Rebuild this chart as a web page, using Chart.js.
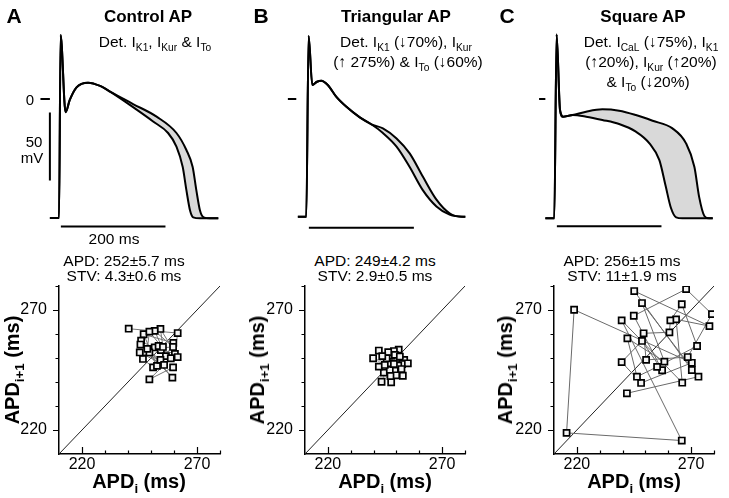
<!DOCTYPE html>
<html>
<head>
<meta charset="utf-8">
<script src="https://cdn.jsdelivr.net/npm/chart.js@4.4.1/dist/chart.umd.min.js"></script>
<style>
body{margin:0;background:#fff;font-family:Arial,"Liberation Sans",sans-serif;}
#fig{position:relative;width:729px;height:498px;overflow:hidden;}
canvas{position:absolute;}
.t{position:absolute;white-space:nowrap;color:#000;line-height:1;transform:translate(-50%,-50%);}
.b{font-weight:bold;}
.r{transform:translate(-50%,-50%) rotate(-90deg);}
sub{font-size:66%;vertical-align:-0.35em;line-height:0;}
</style>
</head>
<body>
<div id="fig">
  <canvas id="apA"></canvas><canvas id="apB"></canvas><canvas id="apC"></canvas>
  <canvas id="pcA"></canvas><canvas id="pcB"></canvas><canvas id="pcC"></canvas>

  <div class="t b" style="left:14px;top:15px;font-size:21px">A</div>
  <div class="t b" style="left:261px;top:15px;font-size:21px">B</div>
  <div class="t b" style="left:507px;top:15px;font-size:21px">C</div>

  <div class="t b" style="left:148px;top:16px;font-size:17px">Control AP</div>
  <div class="t b" style="left:396px;top:16px;font-size:17px">Triangular AP</div>
  <div class="t b" style="left:643px;top:16px;font-size:17px">Square AP</div>

  <div class="t" style="left:155px;top:42px;font-size:15.5px">Det. I<sub>K1</sub>, I<sub>Kur</sub> &amp; I<sub>To</sub></div>
  <div class="t" style="left:406px;top:42px;font-size:15.5px">Det. I<sub>K1</sub> (↓70%), I<sub>Kur</sub></div>
  <div class="t" style="left:408px;top:62px;font-size:15.5px">(↑ 275%) &amp; I<sub>To</sub> (↓60%)</div>
  <div class="t" style="left:651px;top:42px;font-size:15.5px">Det. I<sub>CaL</sub> (↓75%), I<sub>K1</sub></div>
  <div class="t" style="left:651px;top:62px;font-size:15.5px">(↑20%), I<sub>Kur</sub> (↑20%)</div>
  <div class="t" style="left:648px;top:82px;font-size:15.5px">&amp; I<sub>To</sub> (↓20%)</div>

  <div class="t" style="left:30px;top:99px;font-size:15px">0</div>
  <div class="t" style="left:34px;top:141px;font-size:15px">50</div>
  <div class="t" style="left:32px;top:157px;font-size:15px">mV</div>
  <div class="t" style="left:114px;top:239px;font-size:15.5px">200 ms</div>

  <div class="t" style="left:124px;top:261px;font-size:15.5px">APD: 252±5.7 ms</div>
  <div class="t" style="left:124px;top:276px;font-size:15.5px">STV: 4.3±0.6 ms</div>
  <div class="t" style="left:375px;top:261px;font-size:15.5px">APD: 249±4.2 ms</div>
  <div class="t" style="left:375px;top:276px;font-size:15.5px">STV: 2.9±0.5 ms</div>
  <div class="t" style="left:622px;top:261px;font-size:15.5px">APD: 256±15 ms</div>
  <div class="t" style="left:622px;top:276px;font-size:15.5px">STV: 11±1.9 ms</div>

  <div class="t b r" style="left:12px;top:370px;font-size:20px">APD<sub>i+1</sub> (ms)</div>
  <div class="t b r" style="left:257px;top:370px;font-size:20px">APD<sub>i+1</sub> (ms)</div>
  <div class="t b r" style="left:505px;top:370px;font-size:20px">APD<sub>i+1</sub> (ms)</div>
  <div class="t b" style="left:139px;top:481px;font-size:20px">APD<sub>i</sub> (ms)</div>
  <div class="t b" style="left:385px;top:481px;font-size:20px">APD<sub>i</sub> (ms)</div>
  <div class="t b" style="left:634px;top:481px;font-size:20px">APD<sub>i</sub> (ms)</div>
</div>
<script>
// action potential traces: time (ms from upstroke) and voltage (mV)
// shared start (upstroke, notch, early plateau)
const tA0 = [-18, -0.5, 2.5, 12, 20, 33, 55, 78, 97];
const vA0 = [-87.5, -87.5, 47, -9.8, -0.7, 8.6, 12, 9.6, 5.4];
// earliest / latest repolarization of the beat family
const tA1 = [141, 180, 208, 224, 236, 243, 250, 256, 269, 304];
const vA1 = [-6, -16.7, -25, -35, -50, -67, -82, -87, -87.7, -87.7];
const tA2 = [141, 186, 224, 243, 255, 262, 269, 276, 288, 304];
const vA2 = [-3.7, -13, -25, -37.5, -50, -67, -82, -87, -87.7, -87.7];

const tB0 = [-18, -1.9, 2.5, 9.5, 18.4, 26.7, 39, 55, 74, 100, 122];
const vB0 = [-86.5, -86.5, 46.3, 10.3, 12.7, 13.5, 10.3, 1.7, -5.6, -13.5, -18.6];
const tB1 = [144, 170, 195, 220, 246, 271, 297, 301];
const vB1 = [-25, -35, -50, -67, -79, -85, -86.5, -86.5];
const tB2 = [144, 170, 195, 220, 246, 271, 293, 301];
const vB2 = [-21.6, -29, -40, -57, -74, -84, -86.5, -86.5];

const tC0 = [-19, -1.9, 2.5, 9, 15, 33];
const vC0 = [-87.7, -87.7, 47.5, -8.1, -13, -11.8];
const tC1 = [59, 90, 122, 154, 180, 199, 211, 221, 231, 243, 301];
const vC1 = [-13, -15.4, -18.4, -24, -32.6, -45, -64, -80, -87, -87.7, -87.7];
const tC2 = [59, 90, 122, 154, 186, 224, 250, 266, 275, 285, 294, 301];
const vC2 = [-9.3, -7.6, -8.6, -11.8, -16, -21.6, -32.6, -50, -72, -86, -87.7, -87.7];

// Poincare plots: APD_i and APD_i+1 (ms), in beat order
const apdA_i = [240.3, 261.6, 260.4, 251.6, 254.3, 253.3, 255.2, 254.1, 261.6, 250.9, 246.5, 249.3, 252.6, 246.8, 259.7, 256.5, 251.6, 259.6, 248.4, 249.3, 258.6, 245.7, 259.3, 245.4, 254.1, 245.1, 255.7, 249.3, 259.6];
const apdA_next = [262.2, 260.4, 251.7, 254.4, 253.3, 255.0, 254.6, 262.1, 250.4, 246.1, 249.6, 252.3, 246.7, 259.9, 256.3, 250.8, 261.3, 254.6, 253.8, 261.0, 249.9, 257.2, 241.8, 255.6, 249.2, 252.3, 247.1, 241.1, 246.1];
const apdB_i = [242.3, 253.4, 251.0, 244.5, 248.9, 243.5, 252.5, 250.8, 247.7, 249.3, 239.8, 246.7, 249.3, 247.1, 246.4, 249.9, 251.5, 242.3, 245.7, 255.0, 248.9, 252.8, 243.8, 252.2, 244.9, 247.7, 247.4];
const apdB_next = [253.1, 249.2, 253.5, 243.9, 252.9, 240.1, 247.5, 246.9, 251.0, 244.7, 249.9, 247.8, 251.3, 245.0, 252.4, 242.8, 250.6, 246.4, 249.9, 247.8, 247.5, 242.6, 250.8, 245.4, 247.1, 239.9, 242.5];
const apdC_i = [270.3, 245.1, 278.0, 263.4, 266.1, 239.6, 265.9, 215.5, 218.8, 270.3, 248.1, 239.6, 248.5, 257.3, 244.9, 267.8, 279.1, 268.5, 250.3, 249.2, 260.5, 260.9, 265.9, 272.6, 255.1, 246.3, 242.1, 258.3, 248.5, 273.2, 241.9];
const apdC_next = [245.0, 277.9, 263.3, 266.1, 239.7, 265.7, 215.6, 218.8, 270.1, 248.0, 239.6, 248.3, 257.1, 244.9, 267.6, 278.7, 268.3, 250.4, 249.2, 260.3, 260.7, 265.7, 272.4, 255.0, 246.3, 242.2, 258.2, 248.5, 272.9, 242.2, 235.3];

const axisTicks = [220, 270];
const minorTicks = [230, 240, 250, 260, 280];

Chart.defaults.font.family = 'Arial, "Liberation Sans", sans-serif';
Chart.defaults.color = '#000';

const pts = (xs, ys) => xs.map((x, i) => ({x: x, y: ys[i]}));

function place(id, left, top, w, h) {
  const c = document.getElementById(id);
  c.width = w; c.height = h;
  c.style.left = left + 'px'; c.style.top = top + 'px';
  return c;
}

// scale bars and zero mark drawn in data units
const apMarks = {
  id: 'apMarks',
  afterDraw(chart, args, o) {
    const ctx = chart.ctx, xs = chart.scales.x, ys = chart.scales.y;
    ctx.save();
    ctx.strokeStyle = '#000';
    ctx.lineWidth = 2;
    ctx.beginPath();
    ctx.moveTo(xs.getPixelForValue(o.zero[0]), ys.getPixelForValue(0));
    ctx.lineTo(xs.getPixelForValue(o.zero[1]), ys.getPixelForValue(0));
    ctx.moveTo(xs.getPixelForValue(o.bar[0]), ys.getPixelForValue(o.barV));
    ctx.lineTo(xs.getPixelForValue(o.bar[1]), ys.getPixelForValue(o.barV));
    if (o.mv) {
      ctx.moveTo(xs.getPixelForValue(o.mv[0]), ys.getPixelForValue(o.mv[1]));
      ctx.lineTo(xs.getPixelForValue(o.mv[0]), ys.getPixelForValue(o.mv[2]));
    }
    ctx.stroke();
    ctx.restore();
  }
};

function apChart(id, panelX, x0, pxMs, t0, v0, t1, v1, t2, v2, marks) {
  const top = 25, w = 243, h = 215, zeroY = 99, pxMv = 1.36;
  const c = place(id, panelX, top, w, h);
  const xMin = -(x0 - panelX) / pxMs;
  const yMax = (zeroY - top) / pxMv;
  const line = {
    borderColor: '#000', borderWidth: 2, pointRadius: 0,
    cubicInterpolationMode: 'monotone'
  };
  new Chart(c, {
    type: 'line',
    data: {
      datasets: [
        Object.assign({data: pts(t0.concat(t1), v0.concat(v1)), fill: false}, line),
        Object.assign({data: pts(t0.concat(t2), v0.concat(v2)), fill: '-1', backgroundColor: '#d9d9d9'}, line)
      ]
    },
    options: {
      responsive: false, animation: false, devicePixelRatio: 1,
      layout: {padding: 0},
      scales: {
        x: {type: 'linear', display: false, min: xMin, max: xMin + w / pxMs},
        y: {type: 'linear', display: false, min: yMax - h / pxMv, max: yMax}
      },
      plugins: {
        legend: {display: false}, tooltip: {enabled: false},
        filler: {drawTime: 'beforeDatasetsDraw'},
        apMarks: marks
      }
    },
    plugins: [apMarks]
  });
}

apChart('apA', 0, 59.3, 0.523, tA0, vA0, tA1, vA1, tA2, vA2,
  {zero: [-36, -18], bar: [3, 203], barV: -93.8, mv: [-18, -10, -60]});
apChart('apB', 243, 307.3, 0.525, tB0, vB0, tB1, vB1, tB2, vB2,
  {zero: [-37, -21], bar: [3, 203], barV: -94.6});
apChart('apC', 486, 555.3, 0.523, tC0, vC0, tC1, vC1, tC2, vC2,
  {zero: [-31, -19], bar: [3, 203], barV: -93.5});

// tick marks: x ticks point into the plot, y ticks point outward
const tickMarks = {
  id: 'tickMarks',
  afterDraw(chart) {
    const ctx = chart.ctx, xs = chart.scales.x, ys = chart.scales.y;
    const x0 = chart.chartArea.left, y0 = chart.chartArea.bottom;
    ctx.save();
    ctx.strokeStyle = '#000';
    ctx.lineWidth = 1.2;
    ctx.beginPath();
    axisTicks.concat(minorTicks).forEach(v => {
      const major = axisTicks.includes(v);
      const px = Math.round(xs.getPixelForValue(v)) + 0.5;
      ctx.moveTo(px, y0); ctx.lineTo(px, y0 - (major ? 7 : 3.5));
      const py = Math.round(ys.getPixelForValue(v)) + 0.5;
      ctx.moveTo(x0, py); ctx.lineTo(x0 - (major ? 6 : 3.5), py);
    });
    ctx.stroke();
    ctx.restore();
  }
};

function poincare(id, areaLeft, areaRight, xs, ys, lineColor) {
  const top = 280, yAxisW = 59, xAxisH = 28, areaTop = 286, areaBottom = 454;
  const left = areaLeft - yAxisW;
  const w = Math.round(areaRight + 12 - left);
  const h = areaBottom + xAxisH - top;
  const c = place(id, left, top, w, h);
  const lo = 210, hi = 280;
  const noPad = (s) => { s.paddingTop = 0; s.paddingBottom = 0; s.paddingLeft = 0; s.paddingRight = 0; };
  const axis = (fit, pad) => ({
    type: 'linear', min: lo, max: hi,
    afterBuildTicks: (a) => { a.ticks = a.ticks.filter(t => axisTicks.includes(t.value)); },
    afterFit: (s) => { fit(s); noPad(s); },
    ticks: {
      stepSize: 10, padding: pad, font: {size: 16}, color: '#000',
      autoSkip: false, maxRotation: 0, minRotation: 0
    },
    grid: {display: true, drawOnChartArea: false, drawTicks: false, color: 'rgba(0,0,0,0)'},
    border: {display: true, color: '#000', width: 1.5}
  });
  new Chart(c, {
    type: 'scatter',
    data: {
      datasets: [
        {
          data: pts(xs, ys), showLine: true, order: 0,
          borderColor: lineColor, borderWidth: 1,
          pointStyle: 'rect', pointRadius: 4.3,
          pointBackgroundColor: '#f4f4f4', pointBorderColor: '#000', pointBorderWidth: 1.7
        },
        {
          data: [{x: lo, y: lo}, {x: hi, y: hi}], showLine: true, order: 1,
          borderColor: '#222', borderWidth: 1, pointRadius: 0
        }
      ]
    },
    options: {
      responsive: false, animation: false, devicePixelRatio: 1,
      layout: {padding: {top: areaTop - top, right: w - (areaRight - left), left: 0, bottom: 0}},
      scales: {
        x: axis((s) => { s.height = xAxisH; }, 1),
        y: axis((s) => { s.width = yAxisW; }, 12)
      },
      plugins: {legend: {display: false}, tooltip: {enabled: false}}
    },
    plugins: [tickMarks]
  });
}

poincare('pcA', 58.7, 219.7, apdA_i, apdA_next, '#777');
poincare('pcB', 305.3, 465.3, apdB_i, apdB_next, '#aaa');
poincare('pcC', 553.7, 713.7, apdC_i, apdC_next, '#6a6a6a');
</script>
</body>
</html>
